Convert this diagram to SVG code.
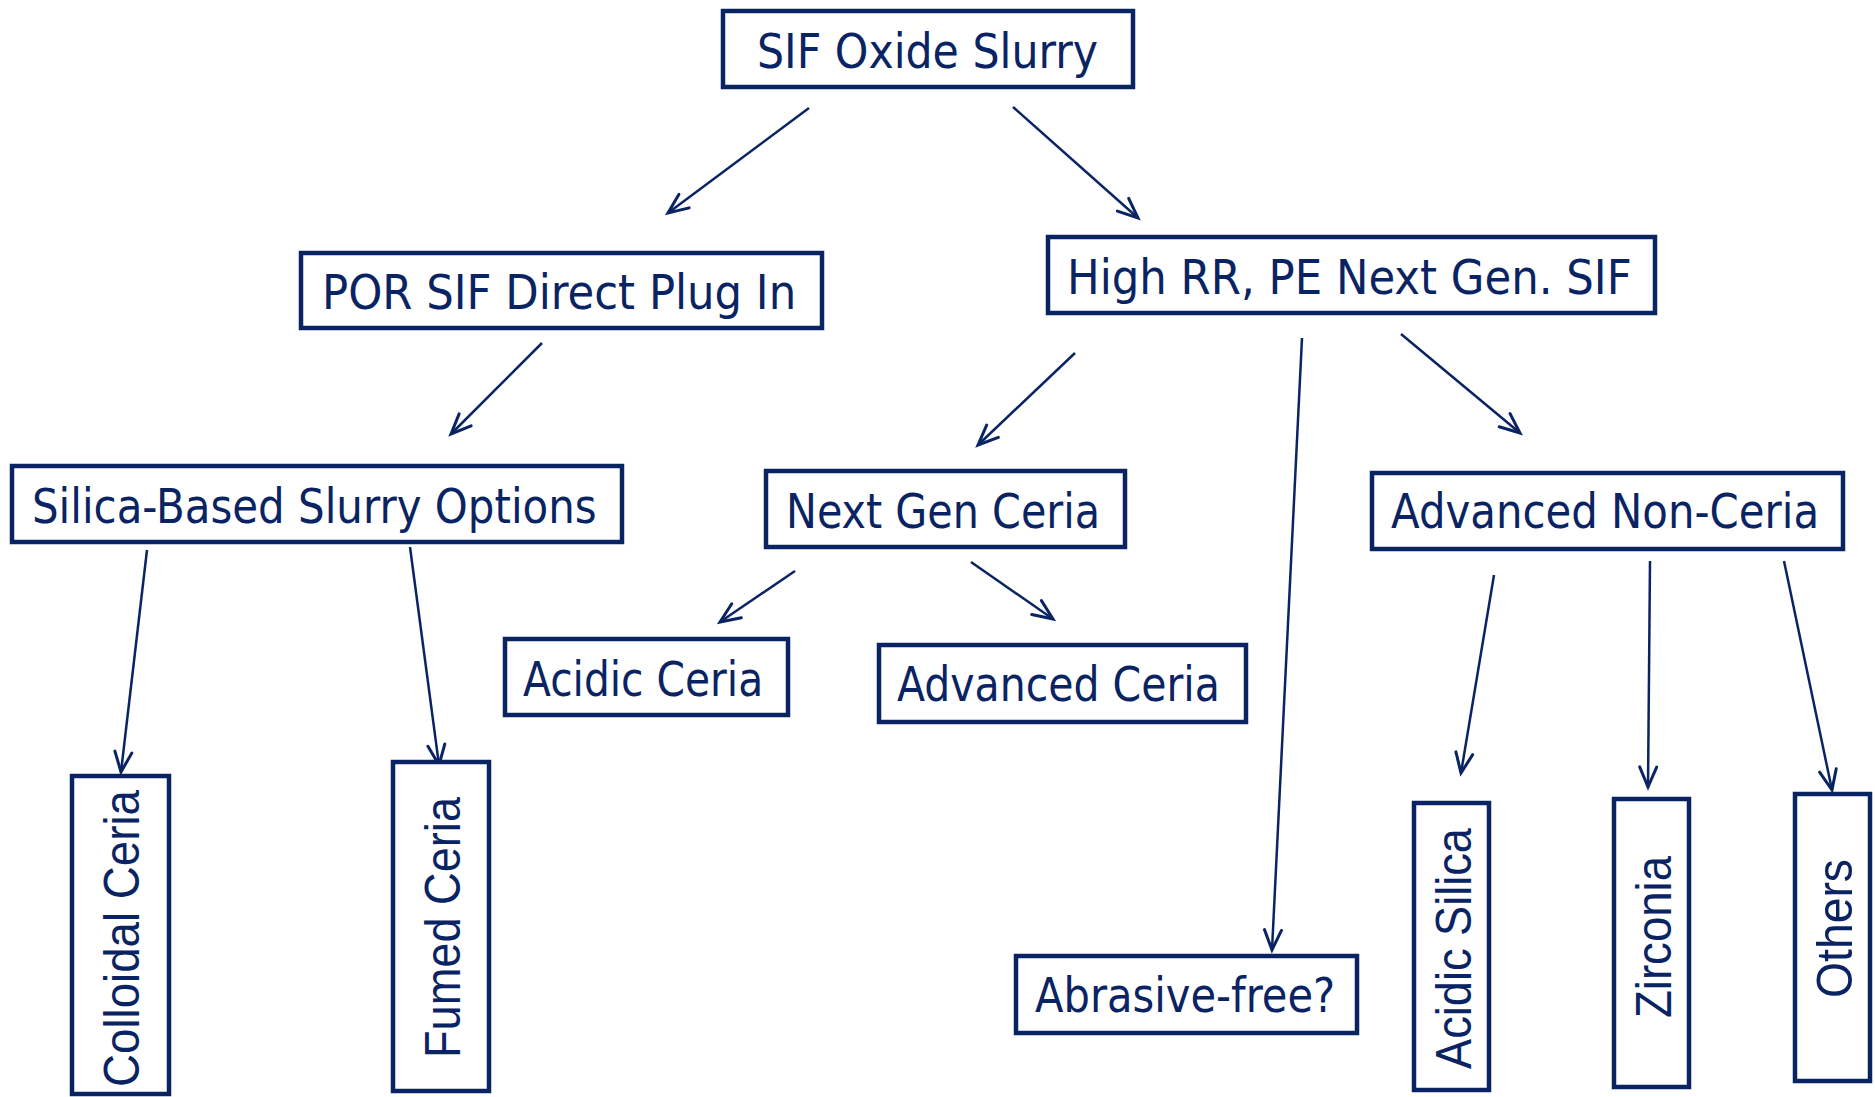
<svg xmlns="http://www.w3.org/2000/svg" width="1875" height="1097" viewBox="0 0 1875 1097">
<style>
.box{fill:#fff;stroke:#0A2463;stroke-width:4.5}
.t{font-family:"DejaVu Sans","Liberation Sans",sans-serif;font-size:48px;fill:#0A2463}
.v{font-family:"Liberation Sans",Arial,sans-serif;font-size:50px;fill:#0A2463}
.c{stroke:#0A2463;stroke-width:2.5;fill:none;marker-end:url(#ah)}
</style>
<defs>
<marker id="ah" markerUnits="userSpaceOnUse" markerWidth="30" markerHeight="30" viewBox="-25 -15 30 30" refX="0" refY="0" orient="auto">
<path d="M-20,-8.5 L0,0 L-20,8.5" fill="none" stroke="#0A2463" stroke-width="3" stroke-linecap="round" stroke-linejoin="miter"/>
</marker>
</defs>
<rect width="1875" height="1097" fill="#fff"/>
<g id="connectors">
<line class="c" x1="809" y1="108" x2="668" y2="213"/>
<line class="c" x1="1013" y1="107" x2="1138" y2="218"/>
<line class="c" x1="542" y1="343" x2="451" y2="434"/>
<line class="c" x1="1075" y1="353" x2="978" y2="445"/>
<line class="c" x1="1302" y1="338" x2="1272" y2="950"/>
<line class="c" x1="1401" y1="334" x2="1520" y2="433"/>
<line class="c" x1="147" y1="550" x2="121" y2="772"/>
<line class="c" x1="410" y1="547" x2="439" y2="765"/>
<line class="c" x1="795" y1="571" x2="720" y2="622"/>
<line class="c" x1="971" y1="562" x2="1053" y2="619"/>
<line class="c" x1="1494" y1="575" x2="1461" y2="773"/>
<line class="c" x1="1650" y1="561" x2="1648" y2="787"/>
<line class="c" x1="1784" y1="561" x2="1832" y2="790"/>
</g>
<g id="sif-oxide-slurry"><rect class="box" x="723" y="11" width="410" height="76"/><text class="t" transform="translate(757 68) scale(0.87 1)" textLength="392" lengthAdjust="spacingAndGlyphs">SIF Oxide Slurry</text></g>
<g id="por-sif"><rect class="box" x="301" y="253" width="521" height="75"/><text class="t" transform="translate(322 309) scale(0.87 1)" textLength="545" lengthAdjust="spacingAndGlyphs">POR SIF Direct Plug In</text></g>
<g id="high-rr"><rect class="box" x="1048" y="237" width="607" height="76"/><text class="t" transform="translate(1067 294) scale(0.87 1)" textLength="649" lengthAdjust="spacingAndGlyphs">High RR, PE Next Gen. SIF</text></g>
<g id="silica-based"><rect class="box" x="12" y="466" width="610" height="76"/><text class="t" transform="translate(32 523) scale(0.87 1)" textLength="649" lengthAdjust="spacingAndGlyphs">Silica-Based Slurry Options</text></g>
<g id="next-gen-ceria"><rect class="box" x="766" y="471" width="359" height="76"/><text class="t" transform="translate(786 528) scale(0.87 1)" textLength="361" lengthAdjust="spacingAndGlyphs">Next Gen Ceria</text></g>
<g id="advanced-non-ceria"><rect class="box" x="1372" y="473" width="471" height="76"/><text class="t" transform="translate(1391 528) scale(0.87 1)" textLength="492" lengthAdjust="spacingAndGlyphs">Advanced Non-Ceria</text></g>
<g id="acidic-ceria"><rect class="box" x="505" y="639" width="283" height="76"/><text class="t" transform="translate(523 696) scale(0.87 1)" textLength="276" lengthAdjust="spacingAndGlyphs">Acidic Ceria</text></g>
<g id="advanced-ceria"><rect class="box" x="879" y="645" width="367" height="77"/><text class="t" transform="translate(897 701) scale(0.87 1)" textLength="371" lengthAdjust="spacingAndGlyphs">Advanced Ceria</text></g>
<g id="abrasive-free"><rect class="box" x="1016" y="956" width="341" height="77"/><text class="t" transform="translate(1035 1012) scale(0.87 1)" textLength="345" lengthAdjust="spacingAndGlyphs">Abrasive-free?</text></g>
<g id="colloidal-ceria"><rect class="box" x="72" y="776" width="97" height="318"/><text class="v" transform="translate(139 1087) rotate(-90)" textLength="297" lengthAdjust="spacingAndGlyphs">Colloidal Ceria</text></g>
<g id="fumed-ceria"><rect class="box" x="393" y="762" width="96" height="329"/><text class="v" transform="translate(460 1058) rotate(-90)" textLength="261" lengthAdjust="spacingAndGlyphs">Fumed Ceria</text></g>
<g id="acidic-silica"><rect class="box" x="1414" y="803" width="75" height="287"/><text class="v" transform="translate(1471 1069) rotate(-90)" textLength="241" lengthAdjust="spacingAndGlyphs">Acidic Silica</text></g>
<g id="zirconia"><rect class="box" x="1614" y="799" width="75" height="288"/><text class="v" transform="translate(1671 1018) rotate(-90)" textLength="162" lengthAdjust="spacingAndGlyphs">Zirconia</text></g>
<g id="others"><rect class="box" x="1795" y="794" width="75" height="287"/><text class="v" transform="translate(1852 998) rotate(-90)" textLength="139" lengthAdjust="spacingAndGlyphs">Others</text></g>
</svg>
